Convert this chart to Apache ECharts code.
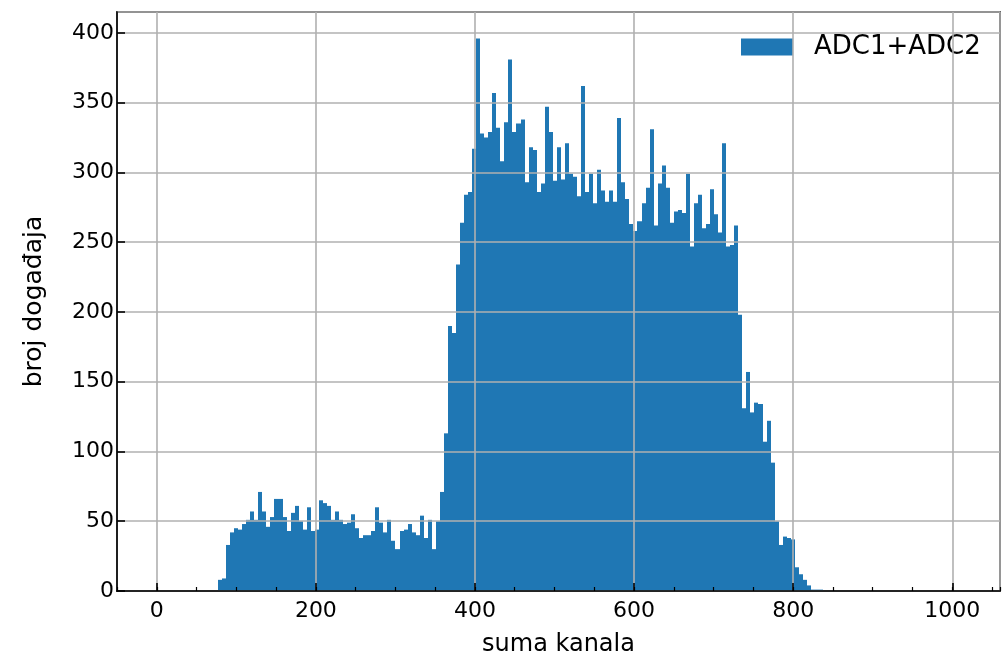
<!DOCTYPE html>
<html>
<head>
<meta charset="utf-8">
<script src="https://cdn.jsdelivr.net/npm/echarts@6/dist/echarts.min.js"></script>
<style>
html,body{margin:0;padding:0;background:#fff;}
#chart{width:1002px;height:662px;}
</style>
</head>
<body>
<div id="chart"></div>
<script>
// ---- data ----
const binStart = 77;      // left edge of first bin (suma kanala)
const binWidth = 5.07;    // bin width
const counts = [
  8, 9, 33, 42, 45, 44, 48, 51, 57, 51,
  71, 57, 46, 53, 66, 66, 53, 43, 56, 61,
  50, 44, 60, 43, 44, 65, 63, 61, 51, 57,
  51, 48, 49, 55, 45, 38, 40, 40, 43, 60,
  49, 42, 51, 36, 30, 43, 44, 48, 42, 40,
  54, 38, 51, 30, 50, 71, 113, 190, 185, 234,
  264, 284, 286, 317, 396, 328, 325, 329, 357, 332,
  308, 336, 381, 329, 335, 338, 293, 318, 316, 286,
  292, 347, 329, 294, 318, 295, 321, 299, 297, 283,
  362, 286, 299, 278, 302, 287, 279, 287, 279, 339,
  293, 281, 263, 258, 265, 278, 289, 331, 262, 292,
  305, 289, 264, 272, 273, 271, 299, 247, 278, 284,
  260, 263, 288, 270, 257, 321, 247, 248, 262, 198,
  131, 157, 128, 135, 134, 107, 122, 92, 50, 33,
  39, 38, 37, 17, 12, 8, 4, 1, 1, 1
];
const seriesName = 'ADC1+ADC2';
const xTickLabels = [0, 200, 400, 600, 800, 1000];
const yTickLabels = [0, 50, 100, 150, 200, 250, 300, 350, 400];
const xName = 'suma kanala';
const yName = 'broj događaja';

const histData = counts.map((c, i) => [binStart + i * binWidth, binStart + (i + 1) * binWidth, c]);

const FONT = 'DejaVu Sans';
const BLUE = '#1f77b4';
const GRID = '#b0b0b0';

const chart = echarts.init(document.getElementById('chart'), null, {renderer: 'canvas'});
chart.setOption({
  animation: false,
  backgroundColor: '#fff',
  grid: {left: 117, right: 2, top: 12, bottom: 70, show: true, borderColor: '#000', borderWidth: 1.6, backgroundColor: 'transparent'},
  legend: {
    data: [{name: seriesName, icon: 'rect'}],
    left: 736, top: 29,
    itemWidth: 52, itemHeight: 17,
    textStyle: {fontFamily: FONT, fontSize: 26, color: '#000', padding: [0, 0, 0, 16]}
  },
  xAxis: [
    {
      type: 'value', min: -50, max: 1060, splitNumber: 5, z: 5,
      name: xName, nameLocation: 'middle', nameGap: 42,
      nameTextStyle: {fontFamily: FONT, fontSize: 24, color: '#000'},
      axisLine: {show: true, onZero: false, lineStyle: {color: '#000', width: 1.6}},
      axisTick: {show: true, inside: true, length: 8, lineStyle: {color: '#000', width: 1.6}},
      axisLabel: {
        fontFamily: FONT, fontSize: 22, color: '#000', margin: 9,
        showMinLabel: false, showMaxLabel: false,
        formatter: v => xTickLabels.indexOf(v) >= 0 ? String(v) : ''
      },
      splitLine: {show: true, lineStyle: {color: GRID, width: 1.6}}
    },
    {
      type: 'value', min: -50, max: 1060, interval: 50, position: 'bottom', z: 5,
      axisLine: {show: false, onZero: false}, axisLabel: {show: false}, splitLine: {show: false},
      axisTick: {show: true, inside: true, length: 4, lineStyle: {color: '#000', width: 1.2}}
    }
  ],
  yAxis: [
    {
      type: 'value', min: 0, max: 415, interval: 50, z: 5,
      name: yName, nameLocation: 'middle', nameGap: 70, nameRotate: 90,
      nameTextStyle: {fontFamily: FONT, fontSize: 25, color: '#000'},
      axisLine: {show: true, onZero: false, lineStyle: {color: '#000', width: 1.6}},
      axisTick: {show: true, inside: true, length: 8, lineStyle: {color: '#000', width: 1.6}},
      axisLabel: {
        fontFamily: FONT, fontSize: 22, color: '#000', margin: 3,
        showMaxLabel: false,
        formatter: v => yTickLabels.indexOf(v) >= 0 ? String(v) : ''
      },
      splitLine: {show: true, lineStyle: {color: GRID, width: 1.6}}
    }
  ],
  series: [{
    type: 'custom',
    name: seriesName,
    xAxisIndex: 0, yAxisIndex: 0,
    itemStyle: {color: BLUE},
    encode: {x: [0, 1], y: 2},
    data: histData,
    renderItem: function (params, api) {
      const p0 = api.coord([api.value(0), api.value(2)]);
      const p1 = api.coord([api.value(1), 0]);
      const xl = Math.round(p0[0]);
      const xr = Math.round(p1[0]);
      return {
        type: 'rect',
        shape: {x: xl, y: p0[1], width: xr - xl, height: p1[1] - p0[1]},
        style: {fill: BLUE}
      };
    }
  }]
});
</script>
</body>
</html>
